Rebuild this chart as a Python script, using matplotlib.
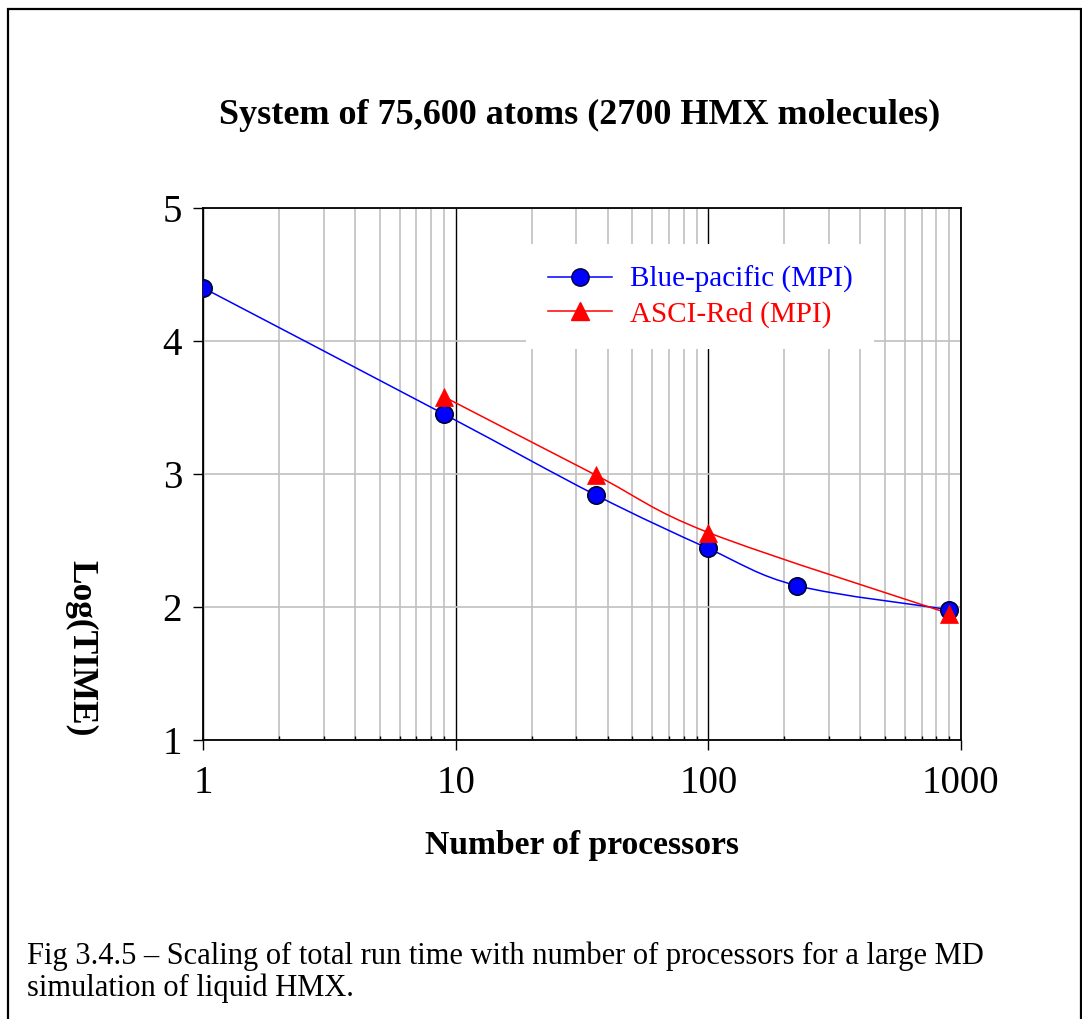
import numpy as np
import matplotlib
matplotlib.use("Agg")
import matplotlib.pyplot as plt
from matplotlib.path import Path
from matplotlib.patches import PathPatch, Rectangle
from matplotlib.lines import Line2D
from matplotlib.ticker import FixedLocator, LogLocator, NullFormatter

plt.rcParams['font.family'] = ['Liberation Serif', 'DejaVu Serif']

# data
blue_procs = [1, 9, 36, 100, 225, 900]
blue_logtime = [4.40, 3.45, 2.84, 2.44, 2.16, 1.98]
red_procs = [9, 36, 100, 900]
red_logtime = [3.58, 2.99, 2.56, 1.95]

title = "System of 75,600 atoms (2700 HMX molecules)"
caption = ("Fig 3.4.5 \u2013 Scaling of total run time with number of processors for a large MD\n"
           "simulation of liquid HMX.")


def smooth_path(xs, ys):
    # excel-style smoothed line: bezier through the points, built in log-x space
    u = np.log10(xs)
    y = np.asarray(ys, dtype=float)
    n = len(u)
    verts = [(xs[0], y[0])]
    codes = [Path.MOVETO]
    for i in range(n - 1):
        i0 = max(i - 1, 0)
        i3 = min(i + 2, n - 1)
        c1u = u[i] + (u[i + 1] - u[i0]) / 6
        c1y = y[i] + (y[i + 1] - y[i0]) / 6
        c2u = u[i + 1] - (u[i3] - u[i]) / 6
        c2y = y[i + 1] - (y[i3] - y[i]) / 6
        verts += [(10 ** c1u, c1y), (10 ** c2u, c2y), (xs[i + 1], y[i + 1])]
        codes += [Path.CURVE4] * 3
    return Path(verts, codes)


fig = plt.figure(figsize=(10.82, 10.19), dpi=100)
ax = fig.add_axes([0.1876, 0.2738, 0.7005, 0.5221])

ax.set_xscale('log')
ax.set_xlim(1, 1000)
ax.set_ylim(1, 5)
ax.set_yticks([1, 2, 3, 4, 5])
ax.xaxis.set_major_locator(FixedLocator([1, 10, 100, 1000]))
ax.set_xticklabels(['1', '10', '100', '1000'])
ax.xaxis.set_minor_locator(LogLocator(base=10, subs=np.arange(2, 10)))
ax.xaxis.set_minor_formatter(NullFormatter())

ax.grid(axis='y', which='major', color='#c0c0c0', lw=1.2)
ax.grid(axis='x', which='major', color='black', lw=1.0)
ax.grid(axis='x', which='minor', color='#c0c0c0', lw=1.2)
ax.set_axisbelow(True)

ax.tick_params(axis='both', which='major', direction='out', length=7, width=1,
               labelsize=28, pad=8)
ax.tick_params(axis='x', which='major', pad=11)
ax.tick_params(axis='x', which='minor', direction='in', length=3, width=1)
for sp in ax.spines.values():
    sp.set_linewidth(1.3)

# smoothed lines
ax.add_patch(PathPatch(smooth_path(blue_procs, blue_logtime), fill=False,
                       edgecolor='blue', lw=1.1, zorder=3))
ax.add_patch(PathPatch(smooth_path(red_procs, red_logtime), fill=False,
                       edgecolor='red', lw=1.1, zorder=3))
ax.plot(blue_procs, blue_logtime, ls='none', marker='o', ms=12.5,
        mfc='blue', mec='#000033', mew=1.2, zorder=4)
ax.plot(red_procs, red_logtime, ls='none', marker='^', ms=13.5,
        mfc='red', mec='red', mew=0.5, zorder=5)

handles = [
    Line2D([], [], color='blue', lw=1.1, marker='o', ms=12.5, mfc='blue', mec='#000033'),
    Line2D([], [], color='red', lw=1.1, marker='^', ms=13.5, mfc='red', mec='red'),
]
leg = ax.legend(handles, ['Blue-pacific (MPI)', 'ASCI-Red (MPI)'],
                loc='upper left', bbox_to_anchor=(0.4265, 0.932), fontsize=21,
                frameon=True, fancybox=False, framealpha=1, edgecolor='none',
                handlelength=2.2, handletextpad=0.6, labelspacing=0.25,
                borderpad=0.75, borderaxespad=0)
leg.set_zorder(10)
leg.get_texts()[0].set_color('blue')
leg.get_texts()[1].set_color('red')

ax.set_xlabel('Number of processors', fontsize=24.2, fontweight='bold', labelpad=20)
fig.text(0.075, 0.364, 'Log(TIME)', rotation=-90, fontsize=25.4, fontweight='bold',
         ha='center', va='center')
fig.text(0.536, 0.887, title, fontsize=26, fontweight='bold', ha='center', va='center')
fig.text(0.025, 0.046, caption, fontsize=22, ha='left', va='center', linespacing=1.1)

# outer frame around the figure area
fig.patches.append(Rectangle((8 / 1082, -0.05), (1081 - 8) / 1082, 1.05 - 9 / 1019,
                             transform=fig.transFigure, fill=False, edgecolor='black',
                             lw=1.6, clip_on=False))

fig.savefig('out.png', dpi=100)
